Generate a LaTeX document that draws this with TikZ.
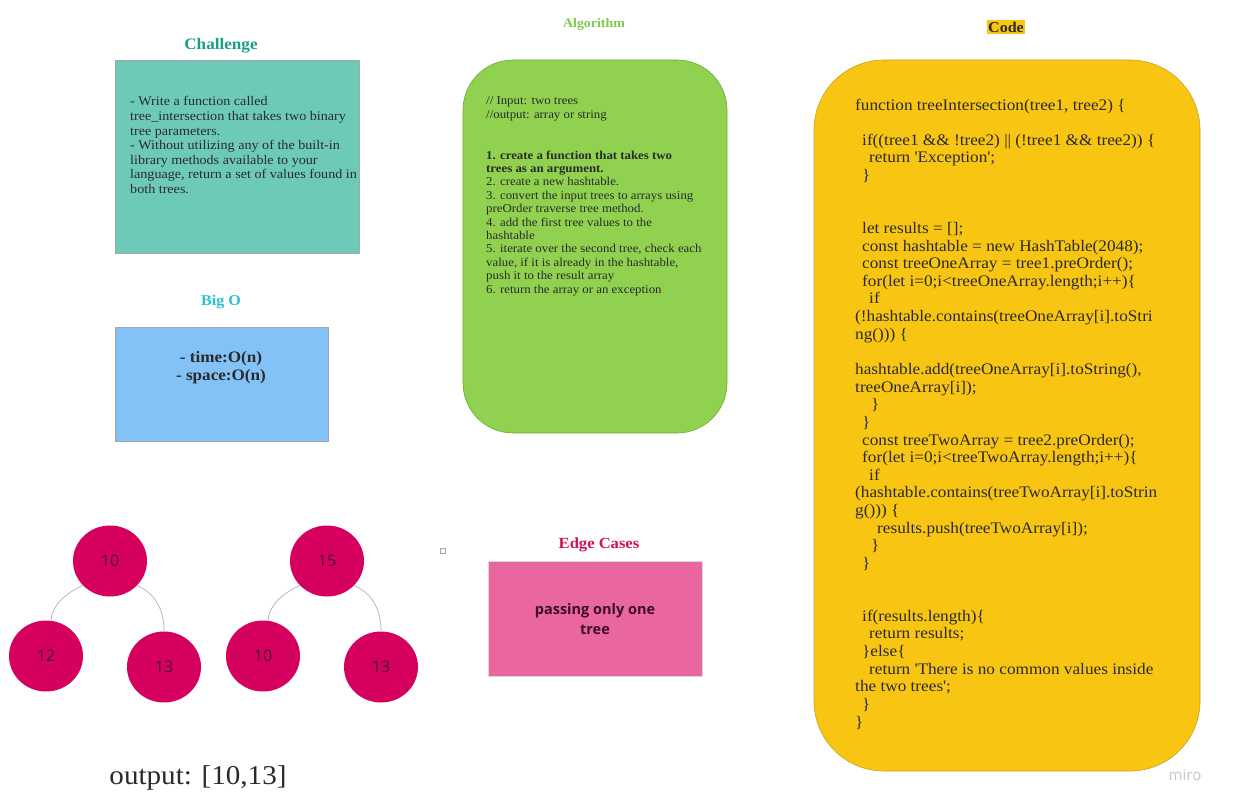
\documentclass[tikz,border=0pt]{standalone}
\usepackage{fontspec}
\setmainfont[FakeStretch=1.07]{Liberation Serif}
\newfontfamily\opensans{Open Sans}
\usetikzlibrary{shapes.geometric}
\definecolor{teal1}{HTML}{6ECAB8}
\definecolor{tealtitle}{HTML}{1A9E86}
\definecolor{blue1}{HTML}{82C2F6}
\definecolor{bluetitle}{HTML}{2BC2D0}
\definecolor{green1}{HTML}{90D14F}
\definecolor{greenedge}{HTML}{6FA83E}
\definecolor{greentitle}{HTML}{7CCC4A}
\definecolor{yellow1}{HTML}{F8C612}
\definecolor{yellowedge}{HTML}{C9A21A}
\definecolor{magenta1}{HTML}{D6005F}
\definecolor{pink1}{HTML}{EA66A0}
\definecolor{pinktitle}{HTML}{D0105C}
\definecolor{nodetext}{HTML}{4A1030}
\definecolor{bodytext}{HTML}{2A2A2A}
\newcommand{\ind}[1]{\hspace*{#1pt}}
\newcommand{\q}{\textquotesingle}
\tikzset{
  x=1pt, y=-1pt,
  titlestyle/.style={font=\bfseries\fontsize{14}{16}\selectfont, inner sep=0pt},
  blockbox/.style={draw=#1, line width=0.6pt},
  bodystyle/.style={text=bodytext, inner sep=0pt, anchor=north west, align=left},
  treenode/.style={ellipse, fill=magenta1, minimum width=74pt, minimum height=71pt, inner sep=0pt,
    text=nodetext, font=\opensans\fontsize{16}{18}\selectfont},
  treeedge/.style={draw=gray!60, line width=0.7pt},
}
\begin{document}
\begin{tikzpicture}
\useasboundingbox[fill=white] (0,0) rectangle (1233,810);

% Challenge
\node[titlestyle, text=tealtitle, font=\bfseries\fontsize{16}{18}\selectfont] (chT) at (221,46) {Challenge};
\draw[blockbox=gray!70, fill=teal1] (115,60) rectangle (359,253);
\node[bodystyle, font=\fontsize{13.2}{14.6}\selectfont] (chB) at (130,96.5) {- Write a function called\\tree\_intersection that takes two binary\\tree parameters.\\- Without utilizing any of the built-in\\library methods available to your\\language, return a set of values found in\\both trees.};

% Big O
\node[titlestyle, text=bluetitle, font=\bfseries\fontsize{15}{17}\selectfont] (boT) at (221,302) {Big O};
\draw[blockbox=gray!70, fill=blue1] (115,327) rectangle (328,441);
\node[text=bodytext, inner sep=0pt, align=center, font=\bfseries\fontsize{16}{18}\selectfont] (boB) at (221,368) {- time:O(n)\\- space:O(n)};

% Algorithm
\node[titlestyle, text=greentitle, font=\bfseries\fontsize{13}{15}\selectfont] (alT) at (594,24) {Algorithm};
\draw[blockbox=greenedge, fill=green1, rounded corners=50pt] (463,60) rectangle (727,433);
\node[bodystyle, font=\fontsize{12}{13.6}\selectfont] (alB) at (486,96.5) {// Input: two trees\\//output: array or string};
\node[bodystyle, font=\fontsize{12}{13.4}\selectfont] (alS) at (486,150.5) {\textbf{1. create a function that takes two}\\\textbf{trees as an argument.}\\2. create a new hashtable.\\3. convert the input trees to arrays using\\preOrder traverse tree method.\\4. add the first tree values to the\\hashtable\\5. iterate over the second tree, check each\\value, if it is already in the hashtable,\\push it to the result array\\6. return the array or an exception};

% Code
\node[titlestyle, fill=yellow1, inner sep=1.5pt, font=\bfseries\fontsize{15}{17}\selectfont, text=bodytext] (coT) at (1006,27) {Code};
\draw[blockbox=yellowedge, fill=yellow1, rounded corners=70pt] (814,60) rectangle (1200,771);
\node[bodystyle, font=\fontsize{16.1}{17.63}\selectfont] (coB) at (855,98.5) {%
function treeIntersection(tree1, tree2) \{\\
\mbox{}\\
\ind{7}if((tree1 \&\& !tree2) || (!tree1 \&\& tree2)) \{\\
\ind{14}return \q Exception\q;\\
\ind{7}\}\\
\mbox{}\\
\mbox{}\\
\ind{7}let results = [];\\
\ind{7}const hashtable = new HashTable(2048);\\
\ind{7}const treeOneArray = tree1.preOrder();\\
\ind{7}for(let i=0;i<treeOneArray.length;i++)\{\\
\ind{14}if\\
(!hashtable.contains(treeOneArray[i].toStri\\
ng())) \{\\
\mbox{}\\
hashtable.add(treeOneArray[i].toString(),\\
treeOneArray[i]);\\
\ind{16}\}\\
\ind{7}\}\\
\ind{7}const treeTwoArray = tree2.preOrder();\\
\ind{7}for(let i=0;i<treeTwoArray.length;i++)\{\\
\ind{14}if\\
(hashtable.contains(treeTwoArray[i].toStrin\\
g())) \{\\
\ind{22}results.push(treeTwoArray[i]);\\
\ind{16}\}\\
\ind{7}\}\\
\mbox{}\\
\mbox{}\\
\ind{7}if(results.length)\{\\
\ind{14}return results;\\
\ind{7}\}else\{\\
\ind{14}return \q There is no common values inside\\
the two trees\q;\\
\ind{7}\}\\
\}};

% Trees
\node[treenode] (a1) at (110,561) {10};
\node[treenode] (a2) at (46,656) {12};
\node[treenode] (a3) at (164,667) {13};
\node[treenode] (b1) at (327,561) {15};
\node[treenode] (b2) at (263,656) {10};
\node[treenode] (b3) at (381,667) {13};
\draw[treeedge] (a1.-138) .. controls (64,594) and (52,606) .. (a2.82);
\draw[treeedge] (b1.-138) .. controls (281,594) and (269,606) .. (b2.82);
\draw[treeedge] (a1.-42) .. controls (156,594) and (164,610) .. (a3.90);
\draw[treeedge] (b1.-42) .. controls (373,594) and (381,610) .. (b3.90);

% small square
\node[draw=gray!70, fill=white, minimum size=5pt, inner sep=0pt, line width=0.5pt] (sq) at (443,551) {};

% Edge cases
\node[titlestyle, text=pinktitle, font=\bfseries\fontsize{15.5}{17}\selectfont] (edT) at (599,545) {Edge Cases};
\draw[blockbox=gray!30, fill=pink1] (488,561) rectangle (702,676);
\node[inner sep=0pt, align=center, text=nodetext!80!black, font=\opensans\bfseries\fontsize{14.5}{19.5}\selectfont] (edB) at (595,619) {passing only one\\tree};

% output
\node[inner sep=0pt, text=bodytext, font=\fontsize{27.2}{30}\selectfont] (out) at (198,778) {output: [10,13]};

% watermark
\node[inner sep=0pt, text=gray!45, font=\opensans\fontsize{15}{17}\selectfont] (miro) at (1185,775) {miro};
\end{tikzpicture}
\end{document}
